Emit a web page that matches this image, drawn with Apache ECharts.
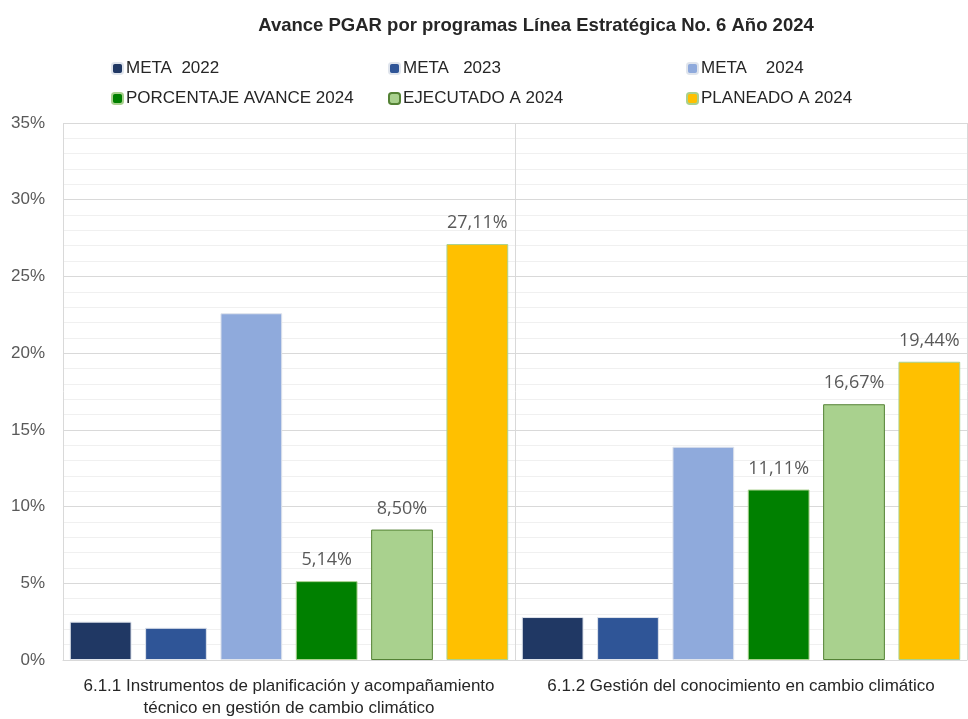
<!DOCTYPE html>
<html lang="es">
<head>
    <meta charset="utf-8">
    <title>Avance PGAR Línea 6</title>
    <script src="https://cdn.jsdelivr.net/npm/echarts@6/dist/echarts.min.js"></script>
    <style>
        html, body { margin: 0; padding: 0; background: #fff; }
        #chart { width: 968px; height: 719px; }
    </style>
</head>
<body>
<div id="chart"></div>
<script type="text/javascript">
    var categories = [
        "6.1.1 Instrumentos de planificación y acompañamiento\ntécnico en gestión de cambio climático",
        "6.1.2 Gestión del conocimiento en cambio climático"
    ];
    var seriesNames = ["META  2022", "META   2023", "META    2024", "PORCENTAJE AVANCE 2024", "EJECUTADO A 2024", "PLANEADO A 2024"];
    var meta2022 = [2.5, 2.8];
    var meta2023 = [2.1, 2.8];
    var meta2024 = [22.6, 13.9];
    var avance2024 = [5.14, 11.11];
    var ejecutado2024 = [8.50, 16.67];
    var planeado2024 = [27.11, 19.44];
    var yTicks = [0, 5, 10, 15, 20, 25, 30, 35];

    var colors = ["#203864", "#2f5597", "#8faadc", "#008000", "#a9d18e", "#ffc000"];
    var borders = ["#dfe4ec", "#dfe4ec", "#dfe4ec", "#a9d18e", "#548235", "#a9d18e"];
    var showLabel = [false, false, false, true, true, true];
    var values = [meta2022, meta2023, meta2024, avance2024, ejecutado2024, planeado2024];

    var sans = "'Liberation Sans', Arial, sans-serif";

    function pct(v) {
        return v.toFixed(2).replace(".", ",") + "%";
    }

    var series = values.map(function (d, i) {
        return {
            name: seriesNames[i],
            type: "bar",
            data: d,
            barGap: "22%",
            barCategoryGap: "3%",
            itemStyle: { color: colors[i], borderColor: borders[i], borderWidth: 1 },
            label: {
                show: showLabel[i],
                position: "top",
                distance: 12,
                color: "#595959",
                fontSize: 18,
                fontFamily: "'Open Sans', 'Noto Sans', sans-serif",
                formatter: function (p) { return pct(p.value); }
            }
        };
    });

    // legend laid out as 3 columns x 2 rows, one component per item
    var legendPos = [[106, 55], [383, 55], [681, 55], [106, 85], [383, 85], [681, 85]];
    var legends = seriesNames.map(function (n, i) {
        return {
            data: [n],
            left: legendPos[i][0],
            top: legendPos[i][1],
            itemWidth: 11,
            itemHeight: 11,
            itemGap: 4,
            selectedMode: false,
            textStyle: { fontSize: 17, color: "#262626", fontFamily: sans, padding: [0, 0, 0, -2] }
        };
    });

    var chart = echarts.init(document.getElementById("chart"));
    chart.setOption({
        animation: false,
        color: colors,
        title: {
            text: "Avance PGAR por programas Línea Estratégica No. 6 Año 2024",
            left: 531,
            textAlign: "center",
            top: 11,
            textStyle: { fontSize: 18.5, fontWeight: "bold", color: "#262626", fontFamily: sans }
        },
        legend: legends,
        grid: { left: 63, right: 1, top: 123, bottom: 58, containLabel: false },
        xAxis: {
            type: "category",
            data: categories,
            axisLine: { lineStyle: { color: "#d9d9d9" } },
            axisTick: { show: false },
            splitLine: { show: true, interval: 0, lineStyle: { color: "#d9d9d9" } },
            axisLabel: {
                interval: 0,
                color: "#262626",
                fontSize: 17,
                lineHeight: 22,
                margin: 15,
                fontFamily: sans
            }
        },
        yAxis: {
            type: "value",
            min: yTicks[0],
            max: yTicks[yTicks.length - 1],
            interval: 5,
            axisLine: { show: false },
            axisTick: { show: false },
            axisLabel: {
                formatter: "{value}%",
                color: "#595959",
                fontSize: 17,
                margin: 18,
                fontFamily: sans
            },
            splitLine: { lineStyle: { color: "#d9d9d9" } },
            minorTick: { show: false, splitNumber: 5 },
            minorSplitLine: { show: true, lineStyle: { color: "#f0f0f0" } }
        },
        series: series
    });
</script>
</body>
</html>
